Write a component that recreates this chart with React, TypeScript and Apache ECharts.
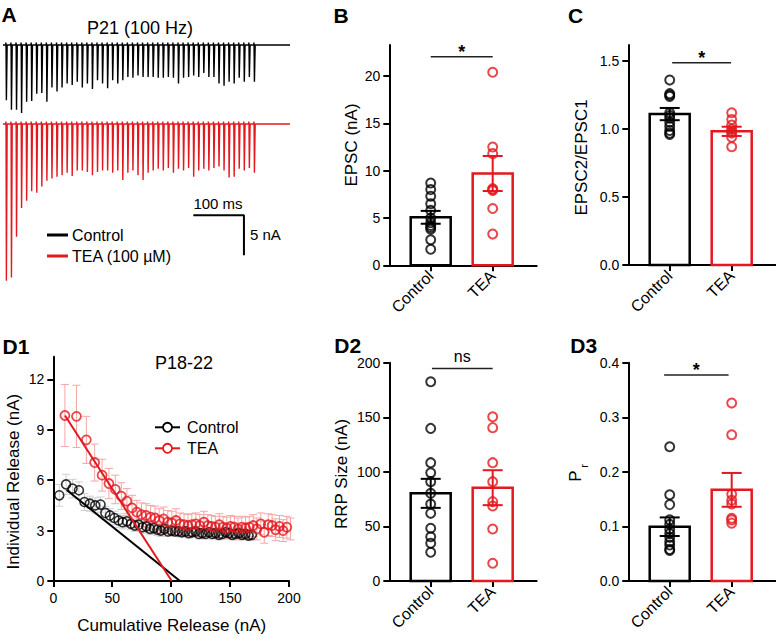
import React, { useEffect, useRef } from "react";
import * as echarts from "echarts";

const RED = "#e3191f";
const FONT = "'Liberation Sans', Arial, Helvetica, sans-serif";

const categories = ["Control", "TEA"];

// ---------- Panel A : 100 Hz trains (amplitudes in nA, times in ms) ----------
const pulseTimes = [0, 10, 20, 30, 40, 50, 60, 70, 80, 90, 100, 110, 120, 130, 140, 150, 160, 170, 180, 190,
  200, 210, 220, 230, 240, 250, 260, 270, 280, 290, 300, 310, 320, 330, 340, 350, 360, 370, 380, 390,
  400, 410, 420, 430, 440, 450, 460, 470, 480, 490];
const controlTraceAmp = [6.9, 8.1, 8.1, 8.5, 7.1, 7.0, 6.1, 6.0, 7.1, 5.3, 5.8, 5.3, 4.8, 5.0, 4.6, 5.3, 4.8, 5.5, 4.4, 4.8,
  5.4, 4.4, 4.8, 4.4, 4.0, 4.1, 3.8, 4.0, 4.0, 4.0, 4.1, 4.1, 4.0, 4.1, 4.8, 4.1, 4.0, 3.8, 4.0, 3.5,
  4.0, 4.0, 4.8, 5.1, 4.6, 4.8, 4.1, 4.6, 4.0, 4.6];
const teaTraceAmp = [19.6, 19.2, 14.1, 10.5, 9.6, 8.4, 8.6, 7.8, 7.1, 6.8, 6.6, 6.4, 6.1, 6.5, 5.8, 5.8, 6.0, 6.4, 6.0, 5.8,
  5.8, 6.1, 5.8, 7.0, 6.1, 5.8, 6.4, 7.0, 6.1, 5.8, 5.6, 5.8, 5.5, 6.1, 5.6, 5.8, 5.5, 6.6, 5.8, 5.6,
  5.8, 5.5, 5.3, 5.8, 6.7, 6.6, 5.6, 5.8, 5.5, 6.1];
const traceStart = -6;
const traceEnd = 561;
const scaleBarMs = 100;
const scaleBarNa = 5;
const scaleBarOrigin = [370, -11.4];

// ---------- Panel B : EPSC (nA) ----------
const epscControl = [8.7, 8.0, 7.3, 6.5, 5.8, 5.0, 4.5, 4.2, 4.0, 3.8, 2.7, 1.7];
const epscTea = [20.4, 12.5, 11.8, 8.1, 8.0, 7.9, 6.0, 3.3];
const epscMean = [5.07, 9.7];
const epscSem = [0.68, 1.85];

// ---------- Panel C : EPSC2/EPSC1 ----------
const pprControl = [1.36, 1.26, 1.25, 1.24, 1.12, 1.10, 1.08, 1.05, 1.02, 0.99, 0.97, 0.96];
const pprTea = [1.12, 1.07, 1.03, 1.0, 0.98, 0.97, 0.94, 0.87];
const pprMean = [1.11, 0.983];
const pprSem = [0.045, 0.034];

// ---------- Panel D1 : individual vs cumulative release (nA) ----------
const controlRelease = [5.1, 5.75, 5.5, 5.4, 4.7, 4.6, 4.5, 4.55, 4.05, 3.9, 3.75, 3.6, 3.5, 3.55, 3.4, 3.3, 3.35, 3.2, 3.25, 3.1,
  3.15, 3.05, 3.0, 3.1, 2.95, 3.0, 2.95, 2.95, 2.9, 2.95, 2.85, 2.9, 2.95, 2.8, 2.85, 2.8, 2.9, 2.8, 2.85, 2.75,
  2.8, 2.9, 2.85, 2.75, 2.8, 2.85, 2.75, 2.8, 2.7, 2.75];
const controlReleaseSem = [0.65, 0.6, 0.55, 0.5, 0.5, 0.45, 0.45, 0.45, 0.4, 0.4, 0.4, 0.4, 0.4, 0.35, 0.35, 0.35, 0.35, 0.35, 0.35, 0.35,
  0.35, 0.35, 0.35, 0.35, 0.3, 0.3, 0.3, 0.3, 0.3, 0.3, 0.3, 0.3, 0.3, 0.3, 0.3, 0.3, 0.3, 0.3, 0.3, 0.3,
  0.3, 0.3, 0.3, 0.3, 0.3, 0.3, 0.3, 0.3, 0.3, 0.3];
const teaRelease = [9.85, 9.8, 8.4, 7.05, 6.3, 5.8, 5.45, 5.05, 4.75, 4.35, 4.1, 3.95, 3.9, 3.8, 3.75, 3.6, 3.7, 3.5, 3.45, 3.6,
  3.4, 3.35, 3.3, 3.35, 3.4, 3.3, 3.5, 3.3, 3.25, 3.2, 3.35, 3.2, 3.15, 3.25, 3.2, 3.1, 3.2, 3.15, 3.2, 3.3,
  3.1, 3.4, 2.9, 3.35, 3.3, 3.05, 3.25, 3.0, 3.2, 3.1];
const teaReleaseSem = [1.85, 1.85, 1.4, 1.1, 0.95, 0.9, 0.85, 0.8, 0.75, 0.75, 0.7, 0.7, 0.7, 0.7, 0.7, 0.7, 0.7, 0.7, 0.7, 0.7,
  0.65, 0.65, 0.65, 0.65, 0.65, 0.65, 0.65, 0.65, 0.65, 0.65, 0.65, 0.65, 0.65, 0.65, 0.65, 0.65, 0.65, 0.65, 0.65, 0.65,
  0.65, 0.65, 0.65, 0.65, 0.65, 0.65, 0.65, 0.65, 0.65, 0.65];
const controlFit = [[11.3, 5.42], [107.5, 0]];
const teaFit = [[9.9, 9.85], [100.5, 0]];

// ---------- Panel D2 : RRP size (nA) ----------
const rrpControl = [182.6, 139.8, 108.4, 99.2, 91, 80.3, 70.5, 62, 48.3, 40.6, 34.5, 26.3];
const rrpTea = [150.5, 140.5, 108.4, 91, 72.7, 68.7, 47.6, 16.2];
const rrpMean = [80.3, 85.5];
const rrpSem = [13.3, 16];

// ---------- Panel D3 : Pr ----------
const prControl = [0.246, 0.158, 0.14, 0.112, 0.104, 0.095, 0.087, 0.08, 0.072, 0.066, 0.058, 0.056];
const prTea = [0.326, 0.268, 0.159, 0.148, 0.141, 0.115, 0.112, 0.106];
const prMean = [0.0995, 0.167];
const prSem = [0.017, 0.031];

function traceData(amps: number[]) {
  const pts: number[][] = [[traceStart, 0]];
  pulseTimes.forEach((t, i) => {
    pts.push([t - 0.6, 0], [t - 0.3, 0.3], [t, 0], [t + 0.7, -amps[i]], [t + 2.2, 0]);
  });
  pts.push([traceEnd, 0]);
  return pts;
}

function cumulative(vals: number[]) {
  let s = 0;
  return vals.map((v) => {
    s += v;
    return [s, v];
  });
}

const axisLineStyle = { color: "#000", width: 2 };

function catXAxis(gridIndex: number) {
  return {
    type: "value",
    gridIndex,
    min: -0.668,
    max: 1.71,
    axisLine: { show: true, onZero: false, lineStyle: axisLineStyle },
    axisTick: { show: true, customValues: [0, 1], length: 6, lineStyle: axisLineStyle },
    axisLabel: {
      customValues: [0, 1],
      formatter: (v: number) => categories[Math.round(v)] ?? "",
      rotate: 45,
      fontSize: 16,
      color: "#000",
      fontFamily: FONT,
      margin: 8,
    },
    splitLine: { show: false },
  };
}

function valYAxis(gridIndex: number, max: number, ticks: number[], dec: number) {
  return {
    type: "value",
    gridIndex,
    min: 0,
    max,
    axisLine: { show: true, onZero: false, lineStyle: axisLineStyle },
    axisTick: { show: true, customValues: ticks, length: 6, lineStyle: axisLineStyle },
    axisLabel: {
      customValues: ticks,
      formatter: (v: number) => Number(v).toFixed(dec),
      fontSize: 14,
      color: "#000",
      fontFamily: FONT,
      margin: 9,
    },
    splitLine: { show: false },
  };
}

function errorBarSeries(gridIndex: number, data: any[], cap: number, width: number, z: number) {
  return {
    type: "custom",
    xAxisIndex: gridIndex,
    yAxisIndex: gridIndex,
    z,
    silent: true,
    data,
    renderItem: (params: any, api: any) => {
      const x = api.value(0);
      const m = api.value(1);
      const s = api.value(2);
      const hi = api.coord([x, m + s]);
      const lo = api.coord([x, m - s]);
      const style = { stroke: api.visual("color"), lineWidth: width };
      return {
        type: "group",
        children: [
          { type: "line", shape: { x1: hi[0], y1: hi[1], x2: lo[0], y2: lo[1] }, style },
          { type: "line", shape: { x1: hi[0] - cap, y1: hi[1], x2: hi[0] + cap, y2: hi[1] }, style },
          { type: "line", shape: { x1: lo[0] - cap, y1: lo[1], x2: lo[0] + cap, y2: lo[1] }, style },
        ],
      };
    },
  };
}

function barPanel(gridIndex: number, ctrl: number[], tea: number[], mean: number[], sem: number[], sig: number[], sigText: string) {
  const colors = ["#000", RED];
  return [
    {
      type: "custom",
      xAxisIndex: gridIndex,
      yAxisIndex: gridIndex,
      z: 2,
      silent: true,
      data: mean.map((m, i) => ({ value: [i, m], itemStyle: { color: colors[i] } })),
      renderItem: (params: any, api: any) => {
        const x = api.value(0);
        const top = api.coord([x, api.value(1)]);
        const base = api.coord([x, 0]);
        return {
          type: "rect",
          shape: { x: top[0] - 20, y: top[1], width: 40, height: base[1] - top[1] },
          style: { fill: "#fff", stroke: api.visual("color"), lineWidth: 2.5 },
        };
      },
    },
    {
      type: "scatter",
      xAxisIndex: gridIndex,
      yAxisIndex: gridIndex,
      z: 3,
      symbol: "circle",
      symbolSize: 9,
      itemStyle: { color: "rgba(0,0,0,0)", borderColor: "#000", borderWidth: 2 },
      data: ctrl.map((v) => [0, v]),
    },
    {
      type: "scatter",
      xAxisIndex: gridIndex,
      yAxisIndex: gridIndex,
      z: 3,
      symbol: "circle",
      symbolSize: 9,
      itemStyle: { color: "rgba(0,0,0,0)", borderColor: RED, borderWidth: 2 },
      data: tea.map((v) => [1, v]),
    },
    errorBarSeries(
      gridIndex,
      mean.map((m, i) => ({ value: [i, m, sem[i]], itemStyle: { color: colors[i] } })),
      10,
      2,
      4
    ),
    {
      type: "custom",
      xAxisIndex: gridIndex,
      yAxisIndex: gridIndex,
      z: 4,
      silent: true,
      data: [sig],
      renderItem: (params: any, api: any) => {
        const p0 = api.coord([api.value(0), api.value(2)]);
        const p1 = api.coord([api.value(1), api.value(2)]);
        const isStar = sigText === "*";
        return {
          type: "group",
          children: [
            { type: "line", shape: { x1: p0[0], y1: p0[1], x2: p1[0], y2: p1[1] }, style: { stroke: "#222", lineWidth: 1.5 } },
            {
              type: "text",
              x: (p0[0] + p1[0]) / 2,
              y: isStar ? p0[1] - 5 : p0[1] - 12,
              style: {
                text: sigText,
                fill: "#000",
                font: isStar ? `bold 18px ${FONT}` : `16px ${FONT}`,
                align: "center",
                verticalAlign: "middle",
              },
            },
          ],
        };
      },
    },
  ];
}

function txt(x: number, y: number, text: string, size: number, opts: any = {}) {
  return {
    type: "text",
    x,
    y,
    rotation: opts.rotation ?? 0,
    silent: true,
    style: {
      text,
      fill: opts.fill ?? "#000",
      font: `${opts.bold ? "bold " : ""}${size}px ${FONT}`,
      align: opts.align ?? "center",
      verticalAlign: "middle",
    },
  };
}

function line(x1: number, y1: number, x2: number, y2: number, color: string, w: number) {
  return { type: "line", silent: true, shape: { x1, y1, x2, y2 }, style: { stroke: color, lineWidth: w } };
}

export default function App() {
  const ref = useRef<HTMLDivElement>(null);

  useEffect(() => {
    if (!ref.current) return;
    const chart = echarts.init(ref.current, null, { renderer: "svg" });

    const hiddenX = (gridIndex: number) => ({ type: "value", gridIndex, min: traceStart, max: traceEnd, show: false });

    const option: any = {
      animation: false,
      backgroundColor: "#fff",
      grid: [
        { left: 3, top: 37, width: 287, height: 80 },
        { left: 3, top: 116, width: 287, height: 168 },
        { left: 389.3, top: 45, width: 147.4, height: 220.3 },
        { left: 628.3, top: 45, width: 147.4, height: 220 },
        { left: 53.3, top: 356.7, width: 235.7, height: 224.3 },
        { left: 389.3, top: 362.7, width: 147.4, height: 218.3 },
        { left: 628.3, top: 362.7, width: 147.4, height: 218.3 },
      ],
      xAxis: [
        hiddenX(0),
        hiddenX(1),
        catXAxis(2),
        catXAxis(3),
        {
          type: "value",
          gridIndex: 4,
          min: 0,
          max: 200,
          interval: 50,
          axisLine: { show: true, onZero: false, lineStyle: axisLineStyle },
          axisTick: { show: true, length: 6, lineStyle: axisLineStyle },
          axisLabel: { fontSize: 14, color: "#000", fontFamily: FONT, margin: 10 },
          splitLine: { show: false },
        },
        catXAxis(5),
        catXAxis(6),
      ],
      yAxis: [
        { type: "value", gridIndex: 0, min: -9, max: 1, show: false },
        { type: "value", gridIndex: 1, min: -20, max: 1, show: false },
        valYAxis(2, 23.28, [0, 5, 10, 15, 20], 0),
        valYAxis(3, 1.618, [0, 0.5, 1, 1.5], 1),
        valYAxis(4, 13.35, [0, 3, 6, 9, 12], 0),
        valYAxis(5, 200, [0, 50, 100, 150, 200], 0),
        valYAxis(6, 0.4, [0, 0.1, 0.2, 0.3, 0.4], 1),
      ],
      series: [
        {
          type: "line",
          xAxisIndex: 0,
          yAxisIndex: 0,
          showSymbol: false,
          silent: true,
          clip: false,
          lineStyle: { color: "#000", width: 1.4 },
          data: traceData(controlTraceAmp),
        },
        {
          type: "line",
          xAxisIndex: 1,
          yAxisIndex: 1,
          showSymbol: false,
          silent: true,
          clip: false,
          lineStyle: { color: RED, width: 1.4 },
          data: traceData(teaTraceAmp),
        },
        {
          type: "line",
          xAxisIndex: 1,
          yAxisIndex: 1,
          showSymbol: false,
          silent: true,
          lineStyle: { color: "#000", width: 2 },
          data: [
            [scaleBarOrigin[0], scaleBarOrigin[1]],
            [scaleBarOrigin[0] + scaleBarMs, scaleBarOrigin[1]],
            [scaleBarOrigin[0] + scaleBarMs, scaleBarOrigin[1] - scaleBarNa],
          ],
        },
        ...barPanel(2, epscControl, epscTea, epscMean, epscSem, [0, 1, 22.04], "*"),
        ...barPanel(3, pprControl, pprTea, pprMean, pprSem, [0.04, 0.99, 1.4875], "*"),
        ...barPanel(5, rrpControl, rrpTea, rrpMean, rrpSem, [0.02, 1.0, 194.8], "ns"),
        ...barPanel(6, prControl, prTea, prMean, prSem, [-0.09, 0.95, 0.3775], "*"),
        // D1
        errorBarSeries(
          4,
          cumulative(controlRelease).map((p, i) => ({ value: [p[0], p[1], controlReleaseSem[i]], itemStyle: { color: "#cfcfcf" } })),
          4,
          1,
          1
        ),
        errorBarSeries(
          4,
          cumulative(teaRelease).map((p, i) => ({ value: [p[0], p[1], teaReleaseSem[i]], itemStyle: { color: "#f4a6a6" } })),
          4,
          1,
          1
        ),
        {
          type: "scatter",
          xAxisIndex: 4,
          yAxisIndex: 4,
          z: 2,
          symbol: "circle",
          symbolSize: 9,
          itemStyle: { color: "rgba(0,0,0,0)", borderColor: "#000", borderWidth: 1.6 },
          data: cumulative(controlRelease),
        },
        {
          type: "scatter",
          xAxisIndex: 4,
          yAxisIndex: 4,
          z: 3,
          symbol: "circle",
          symbolSize: 9,
          itemStyle: { color: "rgba(0,0,0,0)", borderColor: RED, borderWidth: 1.8 },
          data: cumulative(teaRelease),
        },
        {
          type: "line",
          xAxisIndex: 4,
          yAxisIndex: 4,
          z: 4,
          showSymbol: false,
          silent: true,
          lineStyle: { color: "#000", width: 2 },
          data: controlFit,
        },
        {
          type: "line",
          xAxisIndex: 4,
          yAxisIndex: 4,
          z: 4,
          showSymbol: false,
          silent: true,
          lineStyle: { color: RED, width: 2 },
          data: teaFit,
        },
      ],
      graphic: [
        // panel letters
        txt(9, 14, "A", 21, { bold: true }),
        txt(341, 15, "B", 21, { bold: true }),
        txt(575.5, 15, "C", 21, { bold: true }),
        txt(16, 346, "D1", 21, { bold: true }),
        txt(347.7, 345, "D2", 21, { bold: true }),
        txt(583.7, 345, "D3", 21, { bold: true }),
        // Panel A texts
        txt(140, 28, "P21 (100 Hz)", 18),
        txt(218, 203.5, "100 ms", 15),
        txt(250, 234.7, "5 nA", 15, { align: "left" }),
        line(47, 235, 68, 235, "#000", 3),
        txt(72, 235, "Control", 16, { align: "left" }),
        line(47, 256, 68, 256, RED, 3),
        txt(72, 256, "TEA (100 µM)", 16, { align: "left" }),
        // axis titles
        txt(351, 145, "EPSC (nA)", 17, { rotation: Math.PI / 2 }),
        txt(581, 157.5, "EPSC2/EPSC1", 17, { rotation: Math.PI / 2 }),
        txt(13.3, 481.7, "Individual Release (nA)", 17, { rotation: Math.PI / 2 }),
        txt(171.7, 625, "Cumulative Release (nA)", 17),
        txt(341.7, 474, "RRP Size (nA)", 17, { rotation: Math.PI / 2 }),
        txt(575, 476, "P", 17, { rotation: Math.PI / 2 }),
        txt(584, 466, "r", 11, { rotation: Math.PI / 2 }),
        // D1 title & legend
        txt(184, 362.5, "P18-22", 18),
        line(155, 427.3, 180, 427.3, "#000", 2),
        { type: "circle", silent: true, shape: { cx: 167.5, cy: 427.3, r: 4.5 }, style: { fill: "#fff", stroke: "#000", lineWidth: 1.8 } },
        txt(187, 427.3, "Control", 16, { align: "left" }),
        line(155, 448.3, 180, 448.3, RED, 2),
        { type: "circle", silent: true, shape: { cx: 167.5, cy: 448.3, r: 4.5 }, style: { fill: "#fff", stroke: RED, lineWidth: 1.8 } },
        txt(187, 448.3, "TEA", 16, { align: "left" }),
      ],
    };

    chart.setOption(option);
    return () => chart.dispose();
  }, []);

  return (
    <div
      ref={ref}
      style={{ position: "absolute", left: 0, top: 0, width: 776, height: 639, background: "#fff" }}
    />
  );
}
